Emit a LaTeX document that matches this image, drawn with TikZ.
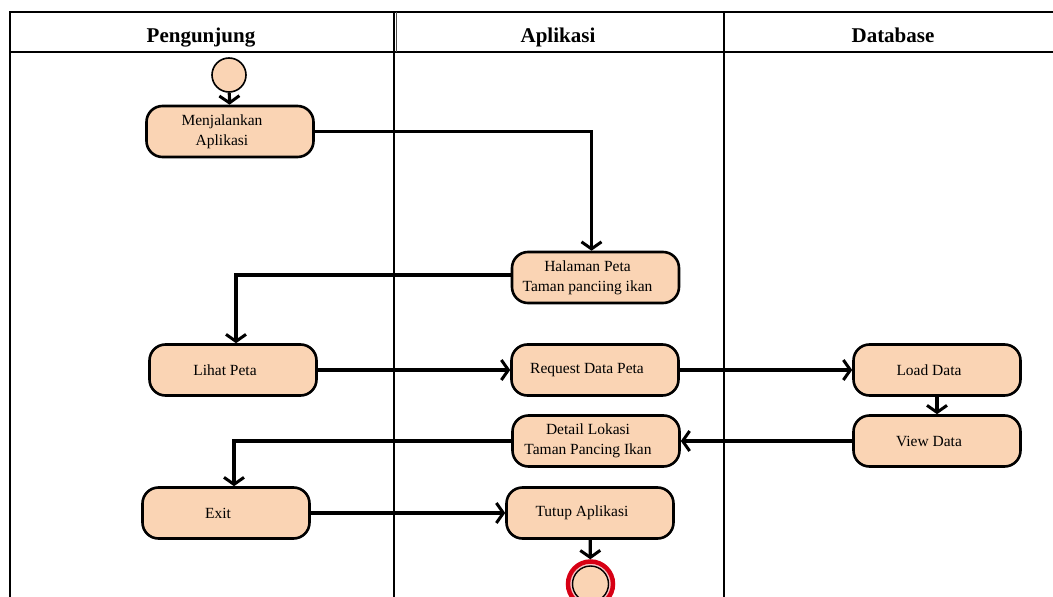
\documentclass[tikz,border=0pt]{standalone}
\usepackage{fontspec}
\setmainfont{Liberation Serif}
\usetikzlibrary{arrows.meta}
\definecolor{peach}{RGB}{250,212,180}
\definecolor{ringred}{RGB}{215,0,20}
\definecolor{ringpink}{RGB}{248,196,196}
% each text line sits a little left of the box centre
\newcommand\lft[1]{#1\hspace*{16pt}}
\begin{document}
\begin{tikzpicture}[x=1pt,y=-1pt,
  lane/.style={line width=2pt},
  act/.style={draw, line width=2.6pt, fill=peach, rounded corners=16pt,
    minimum width=167pt, minimum height=51pt, align=center,
    font=\fontsize{15.5}{20}\selectfont, inner sep=2pt},
  flow/.style={line width=3.2pt, -{Straight Barb[length=7pt,width=20pt,line width=3pt]}},
  head/.style={font=\fontsize{21}{24}\selectfont\bfseries, anchor=base, inner sep=0pt}]
\useasboundingbox (0,0) rectangle (1053,597);
% swimlane frame
\draw[lane] (10,597) -- (10,12) -- (1060,12);
\draw[lane] (10,52) -- (1060,52);
\draw[lane] (393.5,12) -- (393.5,597);
\draw[line width=1pt, black!70] (396.5,12) -- (396.5,52);
\draw[lane] (724,12) -- (724,597);
\node[head] (hp) at (201,42) {Pengunjung};
\node[head] (ha) at (558,42) {Aplikasi};
\node[head] (hd) at (893,42) {Database};
% start node
\node[circle, draw, line width=1.6pt, fill=peach, minimum size=34pt, inner sep=0pt] (s) at (229,75) {};
% activities
\node[act] (m) at (230,131.5) {\lft{Menjalankan}\\\lft{Aplikasi}};
\node[act] (h) at (595.5,277.5) {\lft{Halaman Peta}\\\lft{Taman panciing ikan}};
\node[act] (l) at (233,370) {\lft{Lihat Peta}};
\node[act] (r) at (595,370) {\lft{Request Data Peta}};
\node[act] (ld) at (937,370) {\lft{Load Data}};
\node[act] (v) at (937,441) {\lft{View Data}};
\node[act] (d) at (596,441) {\lft{Detail Lokasi}\\\lft{Taman Pancing Ikan}};
\node[act] (e) at (226,513) {\lft{Exit}};
\node[act] (t) at (590,513) {\lft{Tutup Aplikasi}};
% end node
\node[circle, draw=ringred, line width=4.5pt, fill=ringpink, minimum size=45pt, inner sep=0pt] (f) at (590.5,584) {};
\node[circle, draw, line width=1.4pt, fill=peach, minimum size=36pt, inner sep=0pt] (fi) at (f.center) {};
% flows
\draw[flow] (s) -- (m);
\draw[flow] (m.east) -| ([xshift=-4pt]h.north);
\draw[flow] ([yshift=2.5pt]h.west) -| ([xshift=3pt]l.north);
\draw[flow] (l) -- (r);
\draw[flow] (r) -- (ld);
\draw[flow] (ld) -- (v);
\draw[flow] (v) -- (d);
\draw[flow] (d.west) -| ([xshift=8pt]e.north);
\draw[flow] (e) -- (t);
\draw[flow] (t) -- (f);
\end{tikzpicture}
\end{document}
